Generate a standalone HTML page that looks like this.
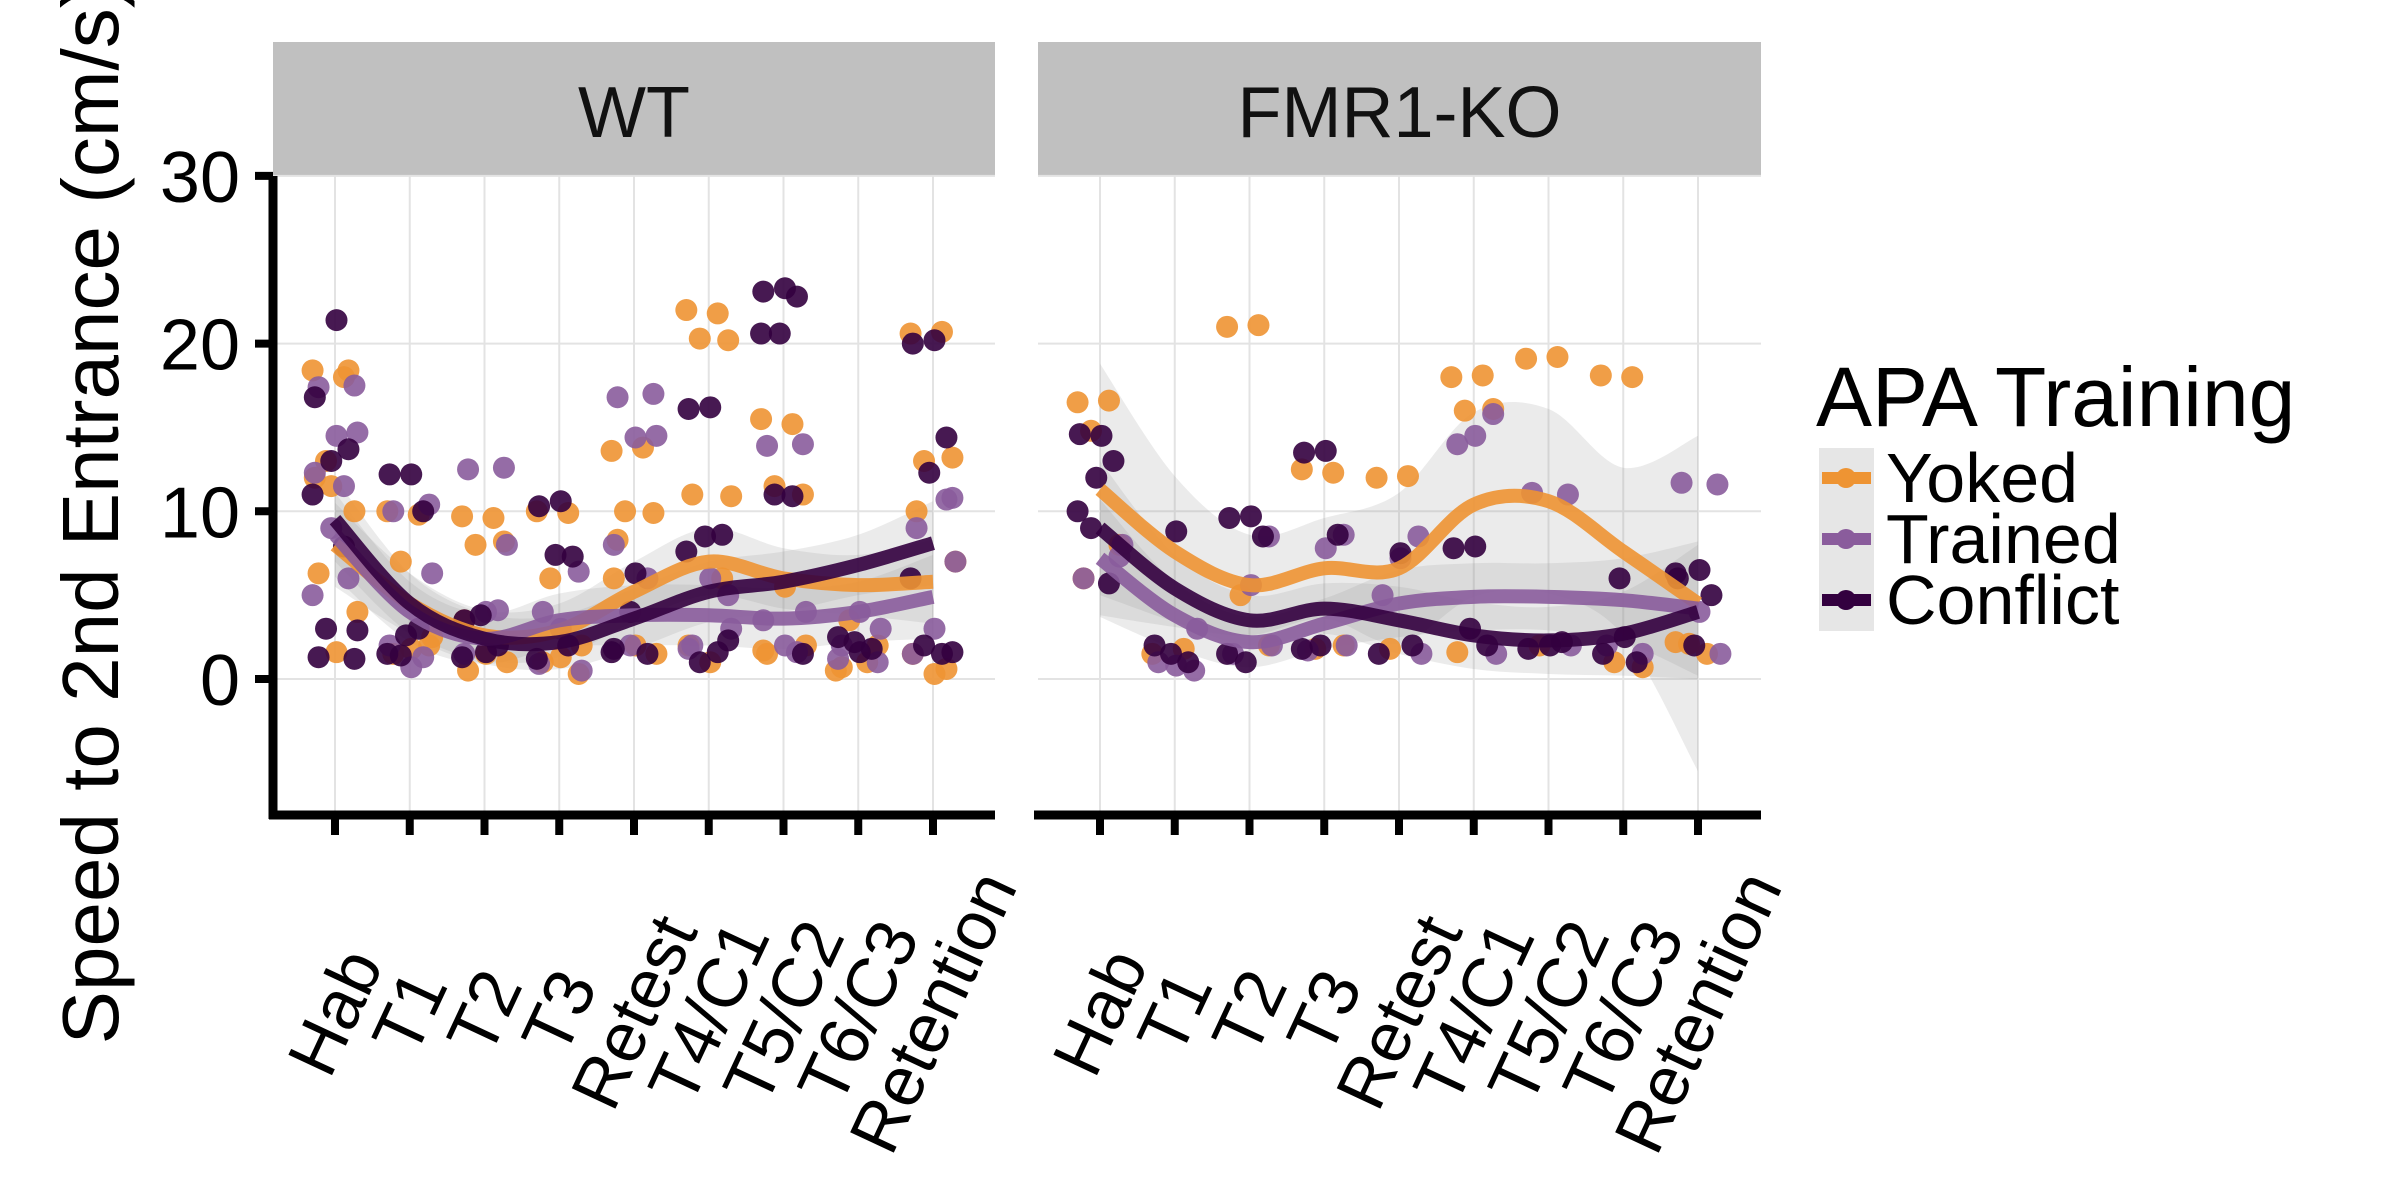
<!DOCTYPE html>
<html><head><meta charset="utf-8"><style>
html,body{margin:0;padding:0;background:#fff;}
svg{display:block;font-family:"Liberation Sans",Arial,sans-serif;}
</style></head><body>
<svg id="chart" width="2400" height="1200" viewBox="0 0 2400 1200" xmlns="http://www.w3.org/2000/svg"></svg>
<script>
const sessions = ["Hab","T1","T2","T3","Retest","T4/C1","T5/C2","T6/C3","Retention"];
const panels = ["WT","FMR1-KO"];
const groups = ["Yoked","Trained","Conflict"];
const yTicks = [0,10,20,30];

const wtYokedFit = [8,4.5,2.6,2.9,5.2,7,6,5.6,5.8];
const wtTrainedFit = [8.6,4,2.4,3.5,3.8,3.8,3.6,4,4.9];
const wtConflictFit = [9.5,4.5,2.4,2.2,3.6,5.2,5.8,6.8,8.1];
const koYokedFit = [11.3,7.6,5.6,6.6,6.6,10.4,10.6,7.6,4.5];
const koTrainedFit = [7.2,3.8,2.2,3.3,4.5,4.9,4.9,4.7,4.2];
const koConflictFit = [9,5.4,3.5,4.2,3.5,2.6,2.3,2.7,4];
const wtYokedSe = [2.5,1.8,1.5,1.6,1.8,2,1.8,1.8,2.5];
const wtTrainedSe = [2.5,1.8,1.5,1.6,1.8,1.8,1.8,1.8,2.5];
const wtConflictSe = [2.5,1.8,1.5,1.6,1.8,1.8,1.8,1.8,2.5];
const koYokedSe = [7.5,4.5,3,3,4.5,5.5,5.5,5,10];
const koTrainedSe = [3.5,2,1.5,1.5,2,2,2,2.5,4];
const koConflictSe = [4,2,1.5,1.5,2,2,2,2.5,4];

const wtYokedPts = [[18.4,18,13,10,6.3,4,1.6,12,18.4,11.5],[10,9.8,7,2,1.5,2.5,1.8],[9.7,9.6,8,8.2,0.5,1,1.5,3.5],[10,9.9,6,0.3,1,2,1.3],[13.6,13.8,10,9.9,8.3,1.5,2,6],[22,21.8,20.3,20.2,11,10.9,1,2,6],[15.5,15.2,11.5,11,1.5,2,5.5,1.7],[0.5,1,3.5,2,0.7],[20.6,20.7,13,13.2,10,7,0.3,1.5,0.6]];
const wtTrainedPts = [[17.5,17.4,14.7,14.5,12.3,6,9,5,11.5],[10.4,10,6.3,0.7,2,1.3],[12.6,12.5,8,4,1.5,4.1],[6.4,4,0.5,3,0.9],[17,16.8,14.5,14.4,8,6,2],[5,2,3,6,1.8],[14,13.9,4,2,3.5,1.6],[1,2,3,4,1.2],[10.8,9,7,3,1.5,10.7]];
const wtConflictPts = [[21.4,16.8,13.7,13,11,7.9,3,1.2,1.3,2.9],[12.2,12.2,10,2.6,1.5,3,1.4],[1.6,3.5,2,3.8,1.3],[10.6,10.3,7.3,7.4,1.2,2],[6.3,1.8,1.5,4,1.6],[16.2,16.1,8.6,8.5,7.6,1.6,1,2.3],[23.3,23.1,22.8,20.6,20.6,10.9,11,1.5],[1.6,2.5,1.8,2.2],[20.2,20,14.4,12.3,6,1.5,2,1.6]];
const koYokedPts = [[16.5,16.6,14.8,8,6],[1.5,1.8],[21,21.1,5,2],[12.5,12.3,1.8,2],[12,12.1,1.8],[18,18.1,16,16.1,1.6],[19.1,19.2,2],[18.1,18,1,0.7],[2.2,1.5,2.1]];
const koTrainedPts = [[7.3,6,8],[0.5,1,3,0.8],[8.5,1.5,2,5.6],[8.6,1.7,2,7.8],[8.5,5,1.5,7.2],[15.8,14,1.5,14.5],[11,11.1,2],[1.5,2],[11.6,11.7,1.5,4]];
const koConflictPts = [[14.5,14.6,13,12,10,5.7,9],[8.8,2,1,1.5],[9.7,9.6,8.5,1,1.5],[13.6,13.5,8.6,2,1.8],[7.5,1.5,2],[7.9,7.8,2,3],[2,1.8,2.2],[2.5,1.5,1,6],[6.5,6,5,2,6.3]];

const colors = {Yoked:"#ee9433",Trained:"#8a5c9c",Conflict:"#33003f"};
const fits = [[wtYokedFit,wtTrainedFit,wtConflictFit],[koYokedFit,koTrainedFit,koConflictFit]];
const ses = [[wtYokedSe,wtTrainedSe,wtConflictSe],[koYokedSe,koTrainedSe,koConflictSe]];
const pts = [[wtYokedPts,wtTrainedPts,wtConflictPts],[koYokedPts,koTrainedPts,koConflictPts]];

const NS="http://www.w3.org/2000/svg";
const svg=document.getElementById('chart');
function mk(tag,attrs,parent){const e=document.createElementNS(NS,tag);for(const k in attrs)e.setAttribute(k,attrs[k]);(parent||svg).appendChild(e);return e;}

const panelX=[[273,995],[1038,1761]];
const firstTick=[335,1100];
const step=74.75;
const yTop=176,yBot=815;
function yS(v){return 679-v*16.77;}
function xS(p,i){return firstTick[p]+i*step;}
function curve(xs,ys){
  let d="M"+xs[0]+","+ys[0];
  for(let i=0;i<xs.length-1;i++){
    const x0=xs[Math.max(i-1,0)],y0=ys[Math.max(i-1,0)],x1=xs[i],y1=ys[i],x2=xs[i+1],y2=ys[i+1],x3=xs[Math.min(i+2,xs.length-1)],y3=ys[Math.min(i+2,xs.length-1)];
    d+=" C"+(x1+(x2-x0)/6)+","+(y1+(y2-y0)/6)+" "+(x2-(x3-x1)/6)+","+(y2-(y3-y1)/6)+" "+x2+","+y2;
  }
  return d;
}
function curveBody(xs,ys){return curve(xs,ys).replace(/^M/,"L");}
const jit=[-0.3,0.12,-0.12,0.26,-0.22,0.3,0.02,-0.27,0.18,-0.05];

const yt=mk('text',{x:0,y:0,transform:'translate(118,513) rotate(-90)','text-anchor':'middle','font-size':80,fill:'#000'});
yt.textContent="Speed to 2nd Entrance (cm/s)";



panels.forEach((pn,p)=>{
  const g=mk('g',{});
  
  
  const [x0,x1]=panelX[p];
  const strip=mk('rect',{x:x0,y:42,width:x1-x0,height:134,fill:'#c0c0c0'},g);
  
  
  const st=mk('text',{x:(x0+x1)/2,y:137,'text-anchor':'middle','font-size':72,fill:'#111'},g);
  st.textContent=pn;
  
  
  yTicks.forEach(v=>{const l=mk('line',{x1:x0,x2:x1,y1:yS(v),y2:yS(v),stroke:'#e3e3e3','stroke-width':2},g);
    });
  sessions.forEach((s,i)=>{const l=mk('line',{x1:xS(p,i),x2:xS(p,i),y1:yTop,y2:yBot,stroke:'#e3e3e3','stroke-width':2},g);
    });
  groups.forEach((gr,k)=>{
    const xs=sessions.map((s,i)=>xS(p,i));
    const up=fits[p][k].map((v,i)=>yS(v+ses[p][k][i]));
    const lo=fits[p][k].map((v,i)=>yS(v-ses[p][k][i]));
    const d=curve(xs,up)+" "+curveBody(xs.slice().reverse(),lo.slice().reverse())+" Z";
    const r=mk('path',{d:d,fill:'#999','fill-opacity':0.2},g);
    
    
  });
  groups.forEach((gr,k)=>{
    pts[p][k].forEach((arr,i)=>{
      arr.forEach((v,j)=>{
        const c=mk('circle',{cx:xS(p,i)+jit[(j+k*3)%10]*step,cy:yS(v),r:11,fill:colors[gr],'fill-opacity':0.9},g);
        
        
      });
    });
  });
  groups.forEach((gr,k)=>{
    const xs=sessions.map((s,i)=>xS(p,i));
    const ys=fits[p][k].map(v=>yS(v));
    const l=mk('path',{d:curve(xs,ys),fill:'none',stroke:colors[gr],'stroke-width':14,'stroke-opacity':0.9,'stroke-linecap':'butt'},g);
    
    
  });
  const ax=mk('line',{x1:x0-4,x2:x1,y1:yBot,y2:yBot,stroke:'#000','stroke-width':9},g);
  
  
  sessions.forEach((s,i)=>{
    const t=mk('line',{x1:xS(p,i),x2:xS(p,i),y1:yBot,y2:835,stroke:'#000','stroke-width':8},g);
    
    const tl=mk('text',{x:0,y:0,transform:'translate('+xS(p,i)+',1012) rotate(-65)','text-anchor':'middle','dominant-baseline':'central','font-size':70,fill:'#000'},g);
    tl.textContent=s;
    
    
  });
});
const yax=mk('line',{x1:273,x2:273,y1:yTop,y2:yBot+4,stroke:'#000','stroke-width':9});


yTicks.forEach(v=>{
  const t=mk('line',{x1:255,x2:273,y1:yS(v),y2:yS(v),stroke:'#000','stroke-width':8});
  
  const tl=mk('text',{x:240,y:yS(v)+26,'text-anchor':'end','font-size':72,fill:'#000'});
  tl.textContent=v;
  
  
});
const lg=mk('g',{});


const lt=mk('text',{x:1816,y:426,'font-size':84,fill:'#000'},lg);
lt.textContent="APA Training";


groups.forEach((gr,k)=>{
  const y=448+k*61;
  const e=mk('g',{},lg);
  
  
  mk('rect',{x:1819,y:y,width:55,height:61,fill:'#e6e6e6'},e);
  mk('line',{x1:1822,x2:1871,y1:y+30,y2:y+30,stroke:colors[gr],'stroke-width':12},e);
  mk('circle',{cx:1846,cy:y+30,r:10,fill:colors[gr]},e);
  const t=mk('text',{x:1886,y:y+54,'font-size':70,fill:'#000'},e);
  t.textContent=gr;
});
</script>
</body></html>
